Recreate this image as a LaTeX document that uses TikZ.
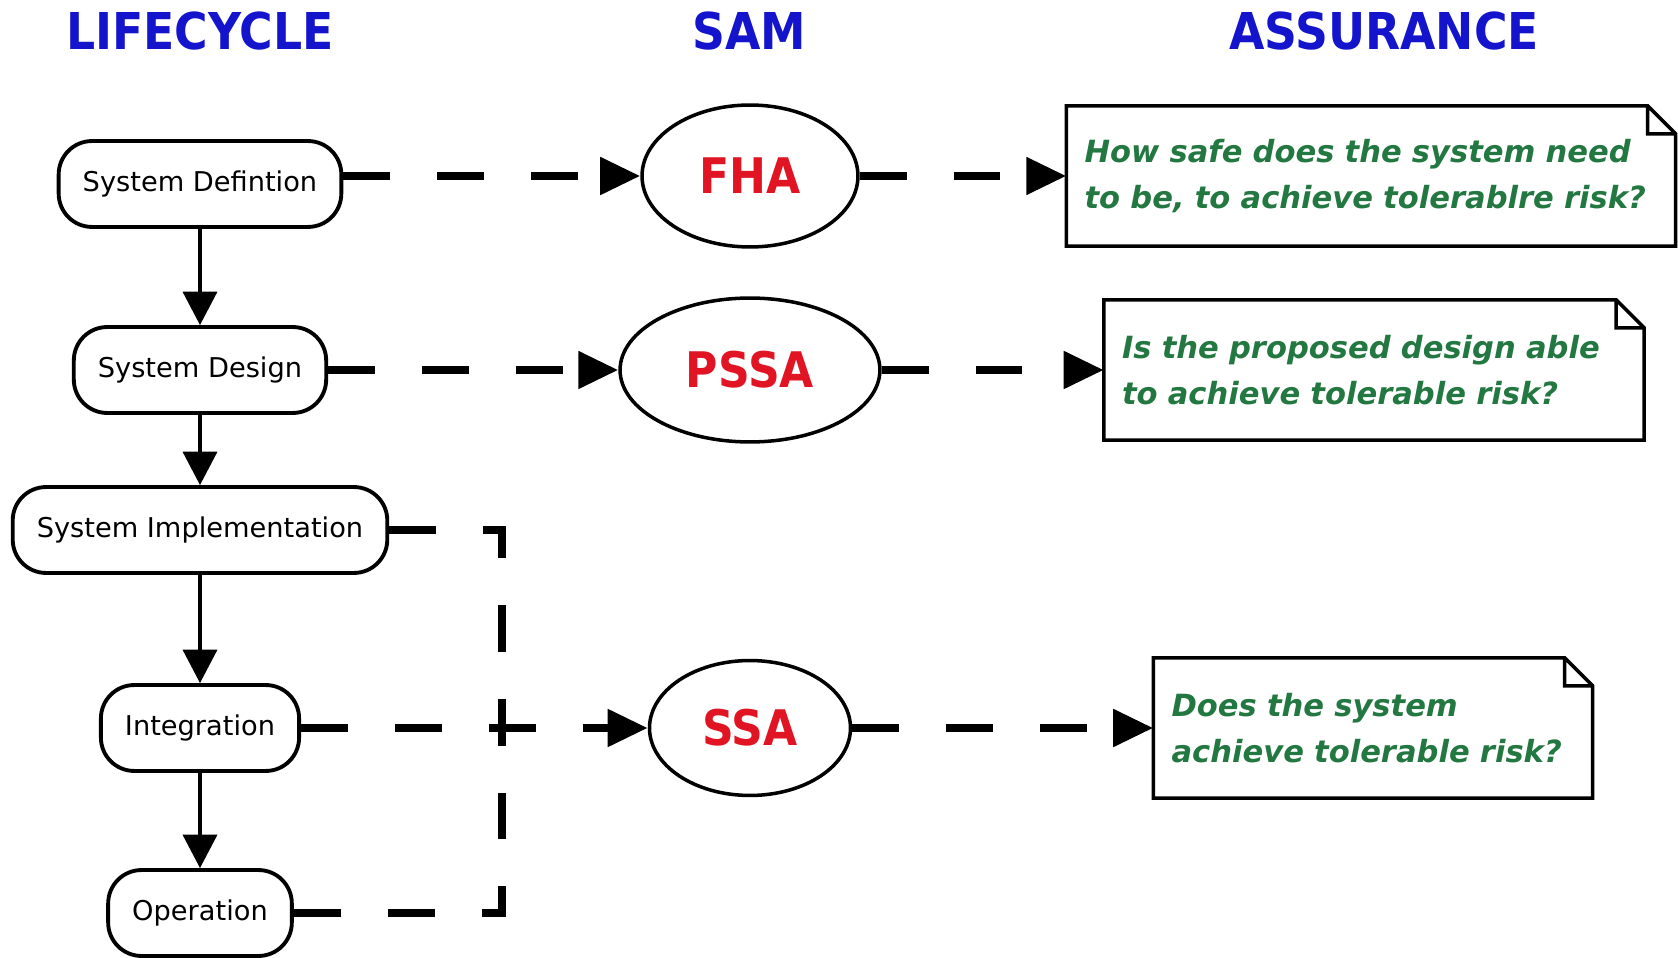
\documentclass[tikz,border=0pt]{standalone}
\usepackage{fontspec}
\setmainfont{DejaVu Sans}
\newfontfamily\headfont[FakeStretch=0.9]{DejaVu Sans}
\usetikzlibrary{arrows.meta,shapes.geometric,calc}
\definecolor{headblue}{RGB}{20,20,205}
\definecolor{samred}{RGB}{225,20,35}
\definecolor{askgreen}{RGB}{35,120,65}

\begin{document}
\begin{tikzpicture}[x=.02cm,y=-.02cm,
  head/.style={font=\headfont\bfseries\fontsize{28.9}{30}\selectfont,text=headblue,anchor=base,inner sep=0pt},
  phase/.style={draw=black,fill=white,line width=2.2pt,rounded corners=19pt,minimum height=48.9pt,inner xsep=13.7pt,inner ysep=0pt,font=\fontsize{15.5}{18}\selectfont},
  sam/.style={ellipse,draw=black,fill=white,line width=2pt,inner sep=0pt,font=\headfont\bfseries\fontsize{27.9}{30}\selectfont,text=samred},
  ask/.style={inner xsep=10.2pt,inner ysep=0pt,align=left,minimum height=79.4pt,font=\bfseries\itshape\fontsize{17.4}{26}\selectfont,text=askgreen},
  noteline/.style={draw=black,line width=2pt,line join=miter},
  flow/.style={-{Triangle[length=19pt,width=19.3pt]},line width=2.2pt},
  feedline/.style={line width=4.6pt,dash pattern=on 26.7pt off 26.7pt},
  feed/.style={feedline,-{Triangle[length=22.8pt,width=20.5pt]}}]
\path[fill=white] (0,0) rectangle (1678,957);
% column heads
\node[head] (lifehead) at (200,50) {LIFECYCLE};
\node[head] (samhead) at (749,50) {SAM};
\node[head] (asshead) at (1384,50) {ASSURANCE};
% lifecycle phases
\node[phase] (def) at (200,184) {System Defintion};
\node[phase] (design) at (200,370) {System Design};
\node[phase] (impl) at (200,530) {System Implementation};
\node[phase] (integ) at (200,728) {Integration};
\node[phase] (oper) at (200,913) {Operation};
% safety assessment
\node[sam,minimum width=122.9pt,minimum height=80.8pt] (fha) at (750,176) {FHA};
\node[sam,minimum width=147.9pt,minimum height=81.9pt] (pssa) at (750,370) {PSSA};
\node[sam,minimum width=114.4pt,minimum height=76.8pt] (ssa) at (750,728) {SSA};
% assurance questions
\node[ask,text width=326pt] (ask1) at (1371,176) {How safe does the system need\\to be, to achieve tolerablre risk?};
\node[ask,text width=286.8pt] (ask2) at (1374,370) {Is the proposed design able\\to achieve tolerable risk?};
\node[ask,text width=229.3pt] (ask3) at (1373,728) {Does the system\\achieve tolerable risk?};
\foreach \n in {ask1,ask2,ask3}
  \draw[noteline] (\n.north west) -- ($(\n.north east)+(-28,0)$) -- ($(\n.north east)+(0,28)$) -- (\n.south east) -- (\n.south west) -- cycle
    ($(\n.north east)+(-28,0)$) |- ($(\n.north east)+(0,28)$);
% connectors
\draw[flow] (def) -- (design);
\draw[flow] (design) -- (impl);
\draw[flow] (impl) -- (integ);
\draw[flow] (integ) -- (oper);
\draw[feed] (def.east |- fha.west) -- (fha.west);
\draw[feed] (fha) -- (ask1);
\draw[feed] (design) -- (pssa);
\draw[feed] (pssa) -- (ask2);
\coordinate (bus) at (502,728);
\draw[feedline] (impl.east) -| (bus) |- (oper.east);
\draw[feed] (integ) -- (ssa);
\draw[feed] (ssa) -- (ask3);
\end{tikzpicture}
\end{document}
